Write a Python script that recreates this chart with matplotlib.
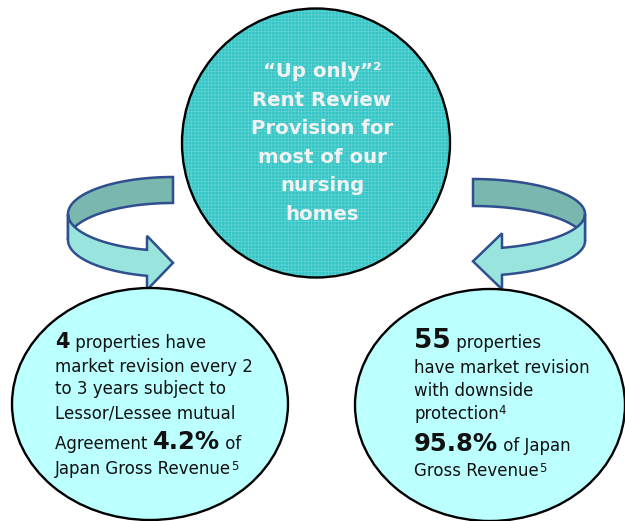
import numpy as np
import matplotlib
matplotlib.use('Agg')
import matplotlib.pyplot as plt
from matplotlib.patches import Ellipse, Polygon

# ---- content ----
top_lines = ['\u201cUp only\u201d\u00b2', 'Rent Review', 'Provision for',
             'most of our', 'nursing', 'homes']

left_count = '4'
left_pct = '4.2%'
left_lines = [
    [(left_count, 'big'), (' properties have', 'txt')],
    [('market revision every 2', 'txt')],
    [('to 3 years subject to', 'txt')],
    [('Lessor/Lessee mutual', 'txt')],
    [('Agreement ', 'txt'), (left_pct, 'pct'), (' of', 'txt')],
    [('Japan Gross Revenue', 'txt'), ('5', 'sup')],
]

right_count = '55'
right_pct = '95.8%'
right_lines = [
    [(right_count, 'big2'), (' properties', 'txt')],
    [('have market revision', 'txt')],
    [('with downside', 'txt')],
    [('protection', 'txt'), ('4', 'sup')],
    [(right_pct, 'pct'), (' of Japan', 'txt')],
    [('Gross Revenue', 'txt'), ('5', 'sup')],
]

styles = {'txt': (12, 'normal', 0), 'big': (15, 'bold', 0), 'big2': (19, 'bold', 0),
          'pct': (17.5, 'bold', 0), 'sup': (8.5, 'normal', -4.5)}

W, H = 625, 521
fig = plt.figure(figsize=(W / 100, H / 100), dpi=100)
ax = fig.add_axes([0, 0, 1, 1])
ax.set_xlim(0, W)
ax.set_ylim(H, 0)
ax.axis('off')

TEAL = '#35C5C5'
LIGHT = '#BBFFFF'
EDGE_BLUE = '#2F4F8E'
BACK = '#7AB7AF'
FRONT = '#99E5DE'

# ---- top circle ----
ax.add_patch(Ellipse((316, 143), 268, 269, facecolor=TEAL, edgecolor='none', zorder=1))
plt.rcParams['hatch.linewidth'] = 0.5
ax.add_patch(Ellipse((316, 143), 268, 269, facecolor='none', edgecolor='#62D4D4',
                     hatch='+++++', lw=0, zorder=1.1))
ax.add_patch(Ellipse((316, 143), 268, 269, facecolor='none', edgecolor='black',
                     lw=1.7, zorder=1.2))


def curved_arrow(cx, cy, rx, ry, h, side, x_head, head_half, tip_len):
    c = (x_head - cx) / rx
    if side < 0:
        th_back = np.linspace(np.pi / 2, np.pi, 80)
        th_front = np.linspace(np.pi, 2 * np.pi - np.arccos(c), 80)
    else:
        th_back = np.linspace(np.pi / 2, 0, 80)
        th_front = np.linspace(0, -np.arccos(c), 80)
    xt = cx + rx * np.cos(th_back)
    yt = cy - ry * np.sin(th_back)
    back = np.vstack([np.column_stack([xt, yt]),
                      np.column_stack([xt[::-1], yt[::-1] + h])])
    ax.add_patch(Polygon(back, closed=True, facecolor=BACK, edgecolor=EDGE_BLUE,
                         lw=1.8, joinstyle='miter', zorder=2))
    xf = cx + rx * np.cos(th_front)
    yf = cy - ry * np.sin(th_front)
    ymid = yf[-1] + h / 2
    head = np.array([[x_head, ymid - head_half],
                     [x_head - side * tip_len, ymid],
                     [x_head, ymid + head_half]])
    front = np.vstack([np.column_stack([xf, yf]), head,
                       np.column_stack([xf[::-1], yf[::-1] + h])])
    ax.add_patch(Polygon(front, closed=True, facecolor=FRONT, edgecolor=EDGE_BLUE,
                         lw=1.8, joinstyle='miter', zorder=2.1))


curved_arrow(173, 214, 105, 37, 26, -1, 147, 27, 26)
curved_arrow(473, 214, 112, 35, 27, +1, 502, 28, 29)

# ---- bottom ellipses ----
ax.add_patch(Ellipse((150, 404), 276, 232, facecolor=LIGHT, edgecolor='black',
                     lw=1.7, zorder=3))
ax.add_patch(Ellipse((490, 405), 270, 232, facecolor=LIGHT, edgecolor='black',
                     lw=1.7, zorder=3))

FONT = 'DejaVu Sans'
renderer = fig.canvas.get_renderer()

# top text
top_base = [77, 106, 134.5, 163, 191, 219.5]
for s, yb in zip(top_lines, top_base):
    ax.text(322, yb, s, fontsize=14.2, fontweight='bold', color='#F2F2F2',
            ha='center', va='baseline', family=FONT, zorder=5)


def draw_line(x, y, segs):
    for s, st in segs:
        size, weight, dy = styles[st]
        t = ax.text(x, y + dy, s, fontsize=size, fontweight=weight, color='#111111',
                    ha='left', va='baseline', family=FONT, zorder=5)
        x += t.get_window_extent(renderer=renderer).width


left_base = [348, 372, 394.5, 418, 449, 474]
for segs, yb in zip(left_lines, left_base):
    draw_line(55, yb, segs)

right_base = [348, 373, 396, 419, 451, 476]
for segs, yb in zip(right_lines, right_base):
    draw_line(414, yb, segs)

fig.savefig('out.png', dpi=100)
